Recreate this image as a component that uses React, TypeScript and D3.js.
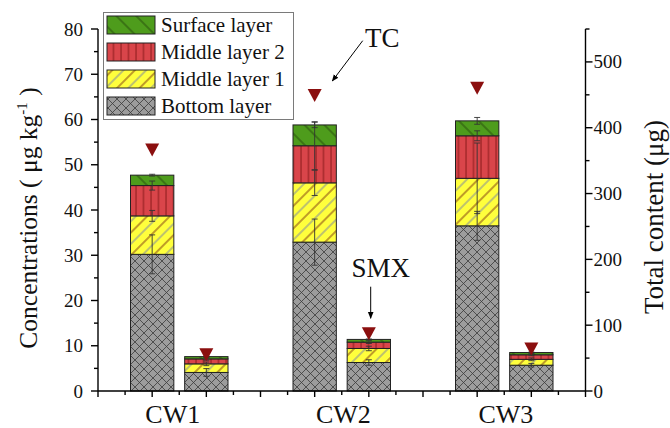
import React from "react";
import * as d3 from "d3";

const barNames = ["CW1 TC", "CW1 SMX", "CW2 TC", "CW2 SMX", "CW3 TC", "CW3 SMX"];
const barPos = [1, 2, 4, 5, 7, 8];
const bottomLayer = [30.2, 4.1, 32.9, 6.3, 36.5, 5.7];
const middleLayer1 = [8.5, 1.9, 13.1, 3.1, 10.5, 1.3];
const middleLayer2 = [6.7, 1.1, 8.2, 1.4, 9.4, 1.0];
const surfaceLayer = [2.3, 0.5, 4.6, 0.6, 3.3, 0.5];
const bottomErr = [4.3, 0.85, 5.1, 0.6, 3.2, 0.4];
const middle1Err = [1.2, 0.4, 2.8, 0.5, 7.8, 0.3];
const middle2Err = [1.0, 0.3, 5.3, 0.3, 1.1, 0.2];
const surfaceErr = [0.2, 0.1, 0.6, 0.1, 0.75, 0.1];
const totalContent = [366, 55, 449, 87, 460, 64];
const groups = ["CW1", "CW2", "CW3"];
const groupPos = [1.38, 4.53, 7.53];
const leftTicks = [0, 10, 20, 30, 40, 50, 60, 70, 80];
const rightTicks = [0, 100, 200, 300, 400, 500];
const layerNames = ["Bottom layer", "Middle layer 1", "Middle layer 2", "Surface layer"];

const FONT = "'Liberation Serif', 'Times New Roman', serif";

export default function App() {
  const x = d3.scaleLinear().domain([0, 9]).range([98, 585.5]);
  const y = d3.scaleLinear().domain([0, 80]).range([391, 29]);
  const y2 = d3.scaleLinear().domain([0, 550]).range([391, 29]);
  const bw = x(0.8) - x(0);

  const layers = [bottomLayer, middleLayer1, middleLayer2, surfaceLayer];
  const errs = [bottomErr, middle1Err, middle2Err, surfaceErr];
  const fills = ["url(#pBottom)", "url(#pM1)", "url(#pM2)", "url(#pSurf)"];

  const stacked = barPos.map((p, i) => {
    let acc = 0;
    return layers.map((L, li) => {
      const y0 = acc;
      acc += L[i];
      return { li, y0, y1: acc, err: errs[li][i] };
    });
  });

  const minorLeft = d3.range(0, 81, 5);
  const minorRight = d3.range(0, 551, 50);
  const xMajor = d3.range(0, 10, 1);
  const xMinor = d3.range(0.5, 9, 1);

  const legendRows = [3, 2, 1, 0];

  return (
    <svg width={670} height={428} style={{ display: "block", position: "absolute", left: 0, top: 0, background: "#fff" }} fontFamily={FONT}>
      <defs>
        <pattern id="pBottom" patternUnits="userSpaceOnUse" width={9} height={9}>
          <rect width={9} height={9} fill="#9c9c9c" />
          <path d="M-1,-1 L10,10 M-1,10 L10,-1" stroke="#3a3a3a" strokeWidth={0.8} />
        </pattern>
        <pattern id="pM1" patternUnits="userSpaceOnUse" width={16} height={16} patternTransform="rotate(45)">
          <rect width={16} height={16} fill="#ffff3c" />
          <line x1={1} y1={0} x2={1} y2={16} stroke="#8a4a16" strokeWidth={1.1} />
          <line x1={9} y1={0} x2={9} y2={16} stroke="#7c86a0" strokeWidth={1} />
        </pattern>
        <pattern id="pM2" patternUnits="userSpaceOnUse" width={7.5} height={10}>
          <rect width={7.5} height={10} fill="#d9454a" />
          <line x1={1} y1={0} x2={1} y2={10} stroke="#8b1a1a" strokeWidth={1} />
        </pattern>
        <pattern id="pSurf" patternUnits="userSpaceOnUse" width={14} height={14} patternTransform="rotate(-45)">
          <rect width={14} height={14} fill="#4e9c1c" />
          <line x1={1} y1={0} x2={1} y2={14} stroke="#1e3a0a" strokeWidth={0.8} />
        </pattern>
        <marker id="arrow" viewBox="0 0 10 10" refX={9} refY={5} markerWidth={7} markerHeight={7} orient="auto">
          <path d="M0,1 L10,5 L0,9 Z" fill="#000" />
        </marker>
      </defs>

      {/* bars */}
      {stacked.map((segs, i) => (
        <g key={barNames[i]}>
          {segs.map((s) => (
            <rect key={s.li} x={x(barPos[i]) - bw / 2} y={y(s.y1)} width={bw} height={y(s.y0) - y(s.y1)}
              fill={fills[s.li]} stroke="#222" strokeWidth={1} />
          ))}
        </g>
      ))}
      {/* error bars */}
      {stacked.map((segs, i) => (
        <g key={"e" + i} stroke="#333" strokeWidth={0.9}>
          {segs.map((s) => {
            const cx = x(barPos[i]);
            const t = y(s.y1 + s.err);
            const b = y(s.y1 - s.err);
            return (
              <g key={s.li}>
                <line x1={cx} x2={cx} y1={t} y2={b} />
                <line x1={cx - 3} x2={cx + 3} y1={t} y2={t} />
                <line x1={cx - 3} x2={cx + 3} y1={b} y2={b} />
              </g>
            );
          })}
        </g>
      ))}
      {/* total content triangles */}
      {totalContent.map((v, i) => {
        const cx = x(barPos[i]);
        const cy = y2(v);
        return <path key={"t" + i} d={`M${cx - 7},${cy - 6.5} L${cx + 7},${cy - 6.5} L${cx},${cy + 6.5} Z`} fill="#8b0f0f" />;
      })}

      {/* axes */}
      <g stroke="#000" strokeWidth={1.4}>
        <line x1={x(0)} x2={x(0)} y1={y(80)} y2={y(0)} />
        <line x1={x(9)} x2={x(9)} y1={y(80)} y2={y(0)} />
        <line x1={x(0)} x2={x(9)} y1={y(0)} y2={y(0)} />
        {minorLeft.map((v) => (
          <line key={"ml" + v} x1={x(0)} x2={x(0) - (v % 10 === 0 ? 7 : 4)} y1={y(v)} y2={y(v)} />
        ))}
        {minorRight.map((v) => (
          <line key={"mr" + v} x1={x(9)} x2={x(9) + (v % 100 === 0 ? 7 : 4)} y1={y2(v)} y2={y2(v)} />
        ))}
        {xMajor.map((v) => (
          <line key={"xm" + v} x1={x(v)} x2={x(v)} y1={y(0)} y2={y(0) + 6} />
        ))}
        {xMinor.map((v) => (
          <line key={"xn" + v} x1={x(v)} x2={x(v)} y1={y(0)} y2={y(0) + 4} />
        ))}
      </g>
      <g fontSize={19} fill="#111">
        {leftTicks.map((v) => (
          <text key={"lt" + v} x={x(0) - 15} y={y(v)} textAnchor="end" dominantBaseline="central">{v}</text>
        ))}
        {rightTicks.map((v) => (
          <text key={"rt" + v} x={x(9) + 8} y={y2(v)} textAnchor="start" dominantBaseline="central">{v}</text>
        ))}
      </g>
      <g fontSize={26} fill="#111">
        {groups.map((g, i) => (
          <text key={g} x={x(groupPos[i])} y={423} textAnchor="middle">{g}</text>
        ))}
      </g>
      <text transform={`translate(37,${218}) rotate(-90)`} textAnchor="middle" fontSize={25.5} fill="#111">
        Concentrations ( μg kg<tspan dy={-10} fontSize={15}>-1</tspan><tspan dy={10}> )</tspan>
      </text>
      <text transform={`translate(663,${217}) rotate(-90)`} textAnchor="middle" fontSize={27} fill="#111">
        Total content (μg)
      </text>

      {/* annotations */}
      <text x={365} y={47} fontSize={27} fill="#111">TC</text>
      <line x1={362.7} y1={40.7} x2={332.3} y2={81} stroke="#000" strokeWidth={1} markerEnd="url(#arrow)" />
      <text x={351.5} y={277} fontSize={27} fill="#111">SMX</text>
      <line x1={370.7} y1={286.7} x2={370.7} y2={318.3} stroke="#000" strokeWidth={1} markerEnd="url(#arrow)" />

      {/* legend */}
      <rect x={103.5} y={12.5} width={190} height={107} fill="#fff" stroke="#7a7a7a" strokeWidth={1} />
      {legendRows.map((li, r) => {
        const cy = 25 + r * 27;
        return (
          <g key={"lg" + li}>
            <rect x={107} y={cy - 9} width={48} height={18} fill={fills[li]} stroke="#222" strokeWidth={1} />
            <text x={161} y={cy} dominantBaseline="central" fontSize={21} fill="#111">{layerNames[li]}</text>
          </g>
        );
      })}
    </svg>
  );
}
